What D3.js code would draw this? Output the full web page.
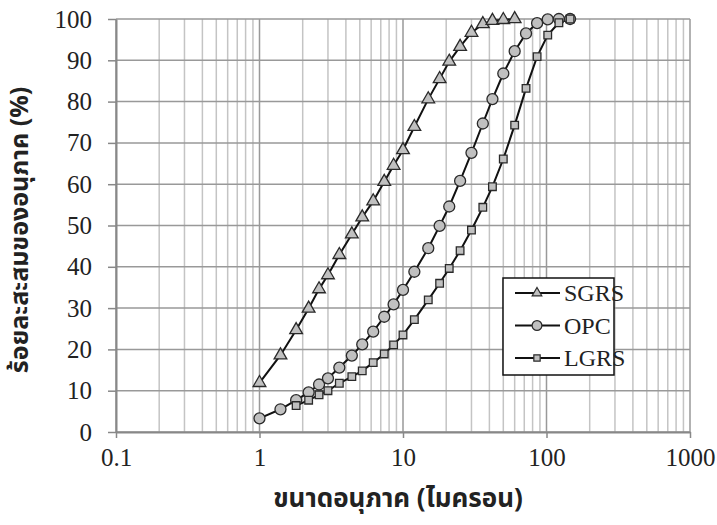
<!DOCTYPE html>
<html>
<head>
<meta charset="utf-8">
<script src="https://cdn.jsdelivr.net/npm/d3@7"></script>
<style>
  body { margin: 0; background: #fff; }
  svg { display: block; }
  .serif { font-family: 'Liberation Serif', 'Times New Roman', Times, serif; }
</style>
</head>
<body>
<div id="chart"></div>
<script>
// Particle sizes (micron) shared by the three series
const sizes = [1, 1.4, 1.8, 2.2, 2.6, 3, 3.6, 4.4, 5.2, 6.2, 7.4, 8.6, 10, 12, 15, 18, 21, 25, 30, 36, 42, 50, 60, 72, 86, 102, 122, 146];

const sgrsSizes = sizes.slice(0, 23);
const sgrsValues = [11.9, 18.6, 24.7, 29.9, 34.6, 38.0, 42.9, 47.9, 52.0, 55.9, 60.6, 64.5, 68.3, 73.9, 80.6, 85.5, 89.7, 93.3, 96.7, 98.8, 99.6, 99.8, 100];

const opcSizes = sizes;
const opcValues = [3.3, 5.5, 7.7, 9.6, 11.5, 13.0, 15.6, 18.5, 21.2, 24.3, 27.9, 30.9, 34.4, 38.8, 44.5, 49.9, 54.6, 60.8, 67.6, 74.7, 80.6, 86.8, 92.2, 96.5, 99.0, 99.9, 100, 100];

const lgrsSizes = sizes.slice(2);
const lgrsValues = [6.4, 7.7, 9.0, 10.0, 11.8, 13.4, 14.8, 16.8, 18.9, 21.1, 23.5, 27.2, 32.0, 36.0, 39.6, 43.9, 48.9, 54.4, 59.4, 66.1, 74.3, 83.2, 90.9, 96.1, 99.1, 100];

const seriesNames = ['SGRS', 'OPC', 'LGRS'];
const xTicks = [0.1, 1, 10, 100, 1000];
const yTicks = [0, 10, 20, 30, 40, 50, 60, 70, 80, 90, 100];

const xTitle = 'ขนาดอนุภาค (ไมครอน)';
const yTitle = 'ร้อยละสะสมของอนุภาค (%)';

const W = 717, H = 525;
const margin = { top: 19, right: 27, bottom: 93, left: 116 };
const width = W - margin.left - margin.right;
const height = H - margin.top - margin.bottom;

const svg = d3.select('#chart').append('svg')
  .attr('width', W)
  .attr('height', H);

const g = svg.append('g')
  .attr('transform', `translate(${margin.left},${margin.top})`);

const x = d3.scaleLog().domain([0.1, 1000]).range([0, width]);
const y = d3.scaleLinear().domain([0, 100]).range([height, 0]);

const thai = "'Noto Sans Thai', Loma, 'Tlwg Typo', 'Noto Sans', sans-serif";

// minor vertical grid
const minor = [];
for (let d = 0.1; d < 1000; d *= 10) {
  for (let k = 2; k <= 9; k++) minor.push(d * k);
}
g.append('g').selectAll('line').data(minor).join('line')
  .attr('x1', d => x(d)).attr('x2', d => x(d))
  .attr('y1', 0).attr('y2', height)
  .attr('stroke', '#c4c4c4').attr('stroke-width', 1.5);

// major vertical grid
g.append('g').selectAll('line').data(xTicks).join('line')
  .attr('x1', d => x(d)).attr('x2', d => x(d))
  .attr('y1', 0).attr('y2', height)
  .attr('stroke', '#999').attr('stroke-width', 1.5);

// horizontal grid
g.append('g').selectAll('line').data(yTicks).join('line')
  .attr('x1', 0).attr('x2', width)
  .attr('y1', d => y(d)).attr('y2', d => y(d))
  .attr('stroke', '#999').attr('stroke-width', 1.5);

// axes
const xAxis = g.append('g')
  .attr('transform', `translate(0,${height})`)
  .call(d3.axisBottom(x).tickValues(xTicks).tickSizeInner(6).tickSizeOuter(0)
    .tickFormat(d => String(d)).tickPadding(10));
xAxis.attr('font-family', null);
xAxis.select('.domain').attr('stroke', '#888').attr('stroke-width', 2);
xAxis.selectAll('.tick line').attr('stroke', '#888').attr('stroke-width', 1.5);
xAxis.selectAll('.tick text')
  .attr('class', 'serif').attr('font-size', 25).attr('fill', '#222');

const yAxis = g.append('g')
  .call(d3.axisLeft(y).tickValues(yTicks).tickSizeInner(8).tickSizeOuter(0).tickPadding(16));
yAxis.attr('font-family', null);
yAxis.select('.domain').attr('stroke', '#888').attr('stroke-width', 2);
yAxis.selectAll('.tick line').attr('stroke', '#888').attr('stroke-width', 1.5);
yAxis.selectAll('.tick text')
  .attr('class', 'serif').attr('font-size', 25).attr('fill', '#222');

// series
const lineGen = d3.line().x(d => x(d[0])).y(d => y(d[1]));
const markFill = '#c0c0c0';
const markStroke = '#2a2a2a';

const triangle = d3.symbol().type(d3.symbolTriangle).size(70);
const circle = d3.symbol().type(d3.symbolCircle).size(95);
const square = d3.symbol().type(d3.symbolSquare).size(58);

const series = [
  { name: 'SGRS', pts: d3.zip(sgrsSizes, sgrsValues), sym: triangle },
  { name: 'OPC', pts: d3.zip(opcSizes, opcValues), sym: circle },
  { name: 'LGRS', pts: d3.zip(lgrsSizes, lgrsValues), sym: square }
];

series.forEach(s => {
  g.append('path').datum(s.pts)
    .attr('fill', 'none').attr('stroke', '#111').attr('stroke-width', 2)
    .attr('d', lineGen);
});
series.forEach(s => {
  g.append('g').selectAll('path').data(s.pts).join('path')
    .attr('transform', d => `translate(${x(d[0])},${y(d[1])})`)
    .attr('d', s.sym)
    .attr('fill', markFill).attr('stroke', markStroke).attr('stroke-width', 1.3);
});

// legend
const legend = svg.append('g').attr('transform', 'translate(503,278)');
legend.append('rect')
  .attr('width', 111).attr('height', 97)
  .attr('fill', '#fff').attr('stroke', '#111').attr('stroke-width', 1.5);
const legSyms = [
  d3.symbol().type(d3.symbolTriangle).size(40),
  d3.symbol().type(d3.symbolCircle).size(75),
  d3.symbol().type(d3.symbolSquare).size(40)
];
seriesNames.forEach((n, i) => {
  const ly = 15 + i * 32.5;
  legend.append('line')
    .attr('x1', 12).attr('x2', 57).attr('y1', ly).attr('y2', ly)
    .attr('stroke', '#111').attr('stroke-width', 2);
  legend.append('path')
    .attr('transform', `translate(34,${ly})`)
    .attr('d', legSyms[i])
    .attr('fill', markFill).attr('stroke', markStroke).attr('stroke-width', 1.2);
  legend.append('text')
    .attr('class', 'serif')
    .attr('x', 61).attr('y', ly).attr('dy', '0.35em')
    .attr('font-size', 24).attr('fill', '#222')
    .text(n);
});

// axis titles
svg.append('text')
  .attr('x', margin.left + x(10) - 5).attr('y', 507)
  .attr('text-anchor', 'middle')
  .style('font-family', thai).attr('font-weight', 'bold').attr('font-size', 26)
  .attr('fill', '#222')
  .text(xTitle);

svg.append('text')
  .attr('transform', `translate(28,230) rotate(-90)`)
  .attr('text-anchor', 'middle')
  .style('font-family', thai).attr('font-weight', 'bold').attr('font-size', 25)
  .attr('fill', '#222')
  .text(yTitle);
</script>
</body>
</html>
